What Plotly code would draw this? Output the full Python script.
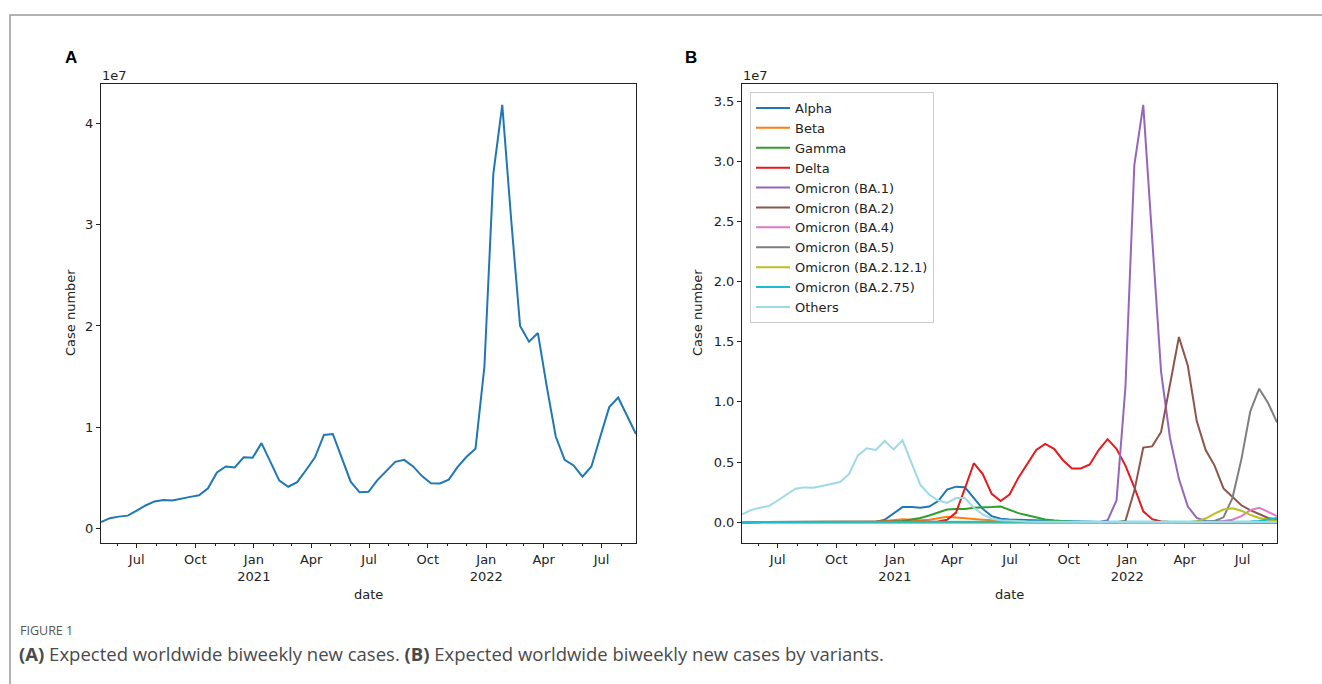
import pandas as pd
import plotly.graph_objects as go

W, H = 1322, 684

# ---------------- data ----------------
dates = pd.date_range("2020-05-06", periods=61, freq="14D")

total_cases = [0.066, 0.105, 0.12, 0.13, 0.18, 0.23, 0.27, 0.285, 0.28, 0.30,
               0.315, 0.33, 0.40, 0.555, 0.615, 0.605, 0.705, 0.70, 0.845, 0.66,
               0.475, 0.415, 0.46, 0.58, 0.705, 0.925, 0.935, 0.70, 0.465, 0.36,
               0.365, 0.48, 0.575, 0.66, 0.68, 0.615, 0.52, 0.45, 0.447, 0.485,
               0.61, 0.71, 0.79, 1.60, 3.50, 4.18, 3.05, 2.0, 1.845, 1.93,
               1.4, 0.91, 0.68, 0.625, 0.515, 0.615, 0.91, 1.20, 1.295, 1.115, 0.935]

alpha = [0]*15 + [0.002, 0.02, 0.07, 0.125, 0.125, 0.12, 0.13, 0.175, 0.27, 0.295,
                  0.29, 0.20, 0.11, 0.05, 0.028, 0.022, 0.02, 0.017, 0.014, 0.011,
                  0.008, 0.005, 0.003, 0.002] + [0]*22
beta = [0]*15 + [0.003, 0.01, 0.02, 0.025, 0.02, 0.015, 0.02, 0.03, 0.045, 0.038,
                 0.03, 0.025, 0.02, 0.015, 0.01, 0.006, 0.003, 0.001] + [0]*28
gamma = [0]*17 + [0.005, 0.01, 0.02, 0.035, 0.055, 0.08, 0.105, 0.11, 0.11, 0.12,
                  0.12, 0.125, 0.13, 0.105, 0.075, 0.058, 0.04, 0.022, 0.013, 0.007,
                  0.004, 0.002] + [0]*22
delta = [0]*22 + [0.005, 0.02, 0.08, 0.28, 0.49, 0.40, 0.235, 0.175, 0.23, 0.37,
                  0.48, 0.60, 0.65, 0.61, 0.515, 0.447, 0.447, 0.48, 0.60, 0.69,
                  0.61, 0.47, 0.29, 0.09, 0.025, 0.006, 0.002] + [0]*12
ba1 = [0]*41 + [0.015, 0.18, 1.12, 2.97, 3.47, 2.40, 1.25, 0.70, 0.36, 0.13,
                0.035, 0.01, 0.004, 0.001] + [0]*6
ba2 = [0]*43 + [0.01, 0.26, 0.62, 0.63, 0.75, 1.15, 1.54, 1.30, 0.84, 0.60,
                0.47, 0.28, 0.21, 0.14, 0.10, 0.065, 0.035, 0.02]
ba4 = [0]*53 + [0.003, 0.01, 0.02, 0.05, 0.10, 0.12, 0.085, 0.05]
ba5 = [0]*52 + [0.003, 0.01, 0.04, 0.20, 0.52, 0.92, 1.11, 0.99, 0.83]
ba2121 = [0]*51 + [0.008, 0.03, 0.07, 0.105, 0.115, 0.095, 0.06, 0.035, 0.02, 0.012]
ba275 = [0]*56 + [0.002, 0.005, 0.01, 0.02, 0.035]
others = [0.064, 0.10, 0.12, 0.133, 0.18, 0.23, 0.278, 0.289, 0.286, 0.30,
          0.314, 0.333, 0.40, 0.555, 0.614, 0.60, 0.675, 0.605, 0.68, 0.50,
          0.31, 0.23, 0.18, 0.16, 0.20, 0.20, 0.12, 0.064, 0.028, 0.015,
          0.01, 0.007, 0.005, 0.004, 0.003] + [0.002]*13 + [0.001]*13

variant_names = ["Alpha", "Beta", "Gamma", "Delta", "Omicron (BA.1)", "Omicron (BA.2)",
                 "Omicron (BA.4)", "Omicron (BA.5)", "Omicron (BA.2.12.1)",
                 "Omicron (BA.2.75)", "Others"]
variant_values = [alpha, beta, gamma, delta, ba1, ba2, ba4, ba5, ba2121, ba275, others]
variant_colors = ["#1f77b4", "#ff7f0e", "#2ca02c", "#e41a1c", "#9467bd", "#8c564b",
                  "#e377c2", "#7f7f7f", "#bcbd22", "#17becf", "#9edae5"]

scale = 1e7
x_tick_dates = ["2020-07-01", "2020-10-01", "2021-01-01", "2021-04-01", "2021-07-01",
                "2021-10-01", "2022-01-01", "2022-04-01", "2022-07-01"]
x_tick_labels = ["Jul", "Oct", "Jan<br>2021", "Apr", "Jul", "Oct", "Jan<br>2022", "Apr", "Jul"]
yA_ticks = [0, 1, 2, 3, 4]
yA_labels = ["0", "1", "2", "3", "4"]
yB_ticks = [0, 0.5, 1.0, 1.5, 2.0, 2.5, 3.0, 3.5]
yB_labels = ["0.0", "0.5", "1.0", "1.5", "2.0", "2.5", "3.0", "3.5"]

# ---------------- helpers ----------------
def px(x):
    return x / W

def py(y):
    return 1 - y / H

fig = go.Figure()

fig.add_trace(go.Scatter(x=dates, y=[v * scale for v in total_cases], mode="lines",
                         line=dict(color="#1f77b4", width=2), showlegend=False,
                         xaxis="x", yaxis="y"))

for name, vals, col in zip(variant_names, variant_values, variant_colors):
    fig.add_trace(go.Scatter(x=dates, y=[v * scale for v in vals], mode="lines", name=name,
                             line=dict(color=col, width=2), xaxis="x2", yaxis="y2"))

tickfont = dict(family="DejaVu Sans", size=13, color="#222")

def xaxis_cfg(domain, anchor):
    return dict(domain=domain, anchor=anchor, type="date",
                range=[dates[0], dates[-1]],
                tickmode="array", tickvals=x_tick_dates, ticktext=x_tick_labels,
                ticks="outside", ticklen=4, tickwidth=1, tickcolor="#222",
                minor=dict(ticks="outside", ticklen=2, tickwidth=1, tickcolor="#222",
                           dtick="M1", tick0="2020-01-01", showgrid=False),
                showline=True, mirror=True, linecolor="#222", linewidth=1,
                showgrid=False, zeroline=False, tickfont=tickfont)

def yaxis_cfg(domain, anchor, rng, tv, tt):
    return dict(domain=domain, anchor=anchor, range=rng,
                tickmode="array", tickvals=[t * scale for t in tv], ticktext=tt,
                ticks="outside", ticklen=4, tickwidth=1, tickcolor="#222",
                showline=True, mirror=True, linecolor="#222", linewidth=1,
                showgrid=False, zeroline=False, tickfont=tickfont)

ydom = [py(543), py(84)]
fig.update_layout(
    width=W, height=H,
    margin=dict(l=0, r=0, t=0, b=0),
    paper_bgcolor="white", plot_bgcolor="white",
    xaxis=xaxis_cfg([px(101), px(636)], "y"),
    yaxis=yaxis_cfg(ydom, "x", [-0.14e7, 4.386e7], yA_ticks, yA_labels),
    xaxis2=xaxis_cfg([px(742), px(1277)], "y2"),
    yaxis2=yaxis_cfg(ydom, "x2", [-0.1735e7, 3.6435e7], yB_ticks, yB_labels),
    legend=dict(x=px(750), y=py(92), xanchor="left", yanchor="top",
                bgcolor="rgba(255,255,255,0.85)", bordercolor="#cccccc", borderwidth=1,
                font=dict(family="DejaVu Sans", size=13, color="#222"),
                tracegroupgap=0, itemwidth=34),
    showlegend=True,
)

ann = []
def text(x, y, s, size=13, xanchor="center", yanchor="middle", angle=0,
         family="DejaVu Sans", color="#222"):
    ann.append(dict(x=px(x), y=py(y), xref="paper", yref="paper", text=s,
                    showarrow=False, xanchor=xanchor, yanchor=yanchor,
                    textangle=angle, font=dict(family=family, size=size, color=color)))

text(71, 58, "<b>A</b>", size=17, family="Liberation Sans", color="#000")
text(691, 58, "<b>B</b>", size=17, family="Liberation Sans", color="#000")
text(100, 75, "1e7", xanchor="left")
text(741, 75, "1e7", xanchor="left")
text(368, 594, "date")
text(1009, 594, "date")
text(70, 313, "Case number", angle=-90)
text(697, 313, "Case number", angle=-90)
text(18, 630, "FIGURE 1", size=12.5, xanchor="left", family="Open Sans", color="#555")
text(17, 653, "<b>(A)</b> Expected worldwide biweekly new cases. <b>(B)</b> Expected worldwide biweekly new cases by variants.",
     size=18.5, xanchor="left", family="Open Sans", color="#4a4a4a")
fig.update_layout(annotations=ann)

fig.add_shape(type="rect", xref="paper", yref="paper",
              x0=px(10), y0=py(720), x1=px(1360), y1=py(15),
              line=dict(color="#999", width=1.5), fillcolor="rgba(0,0,0,0)", layer="below")

fig.write_html("out.html", config={"displayModeBar": False},
               post_script="document.body.style.margin='0';document.body.style.overflow='hidden';")
